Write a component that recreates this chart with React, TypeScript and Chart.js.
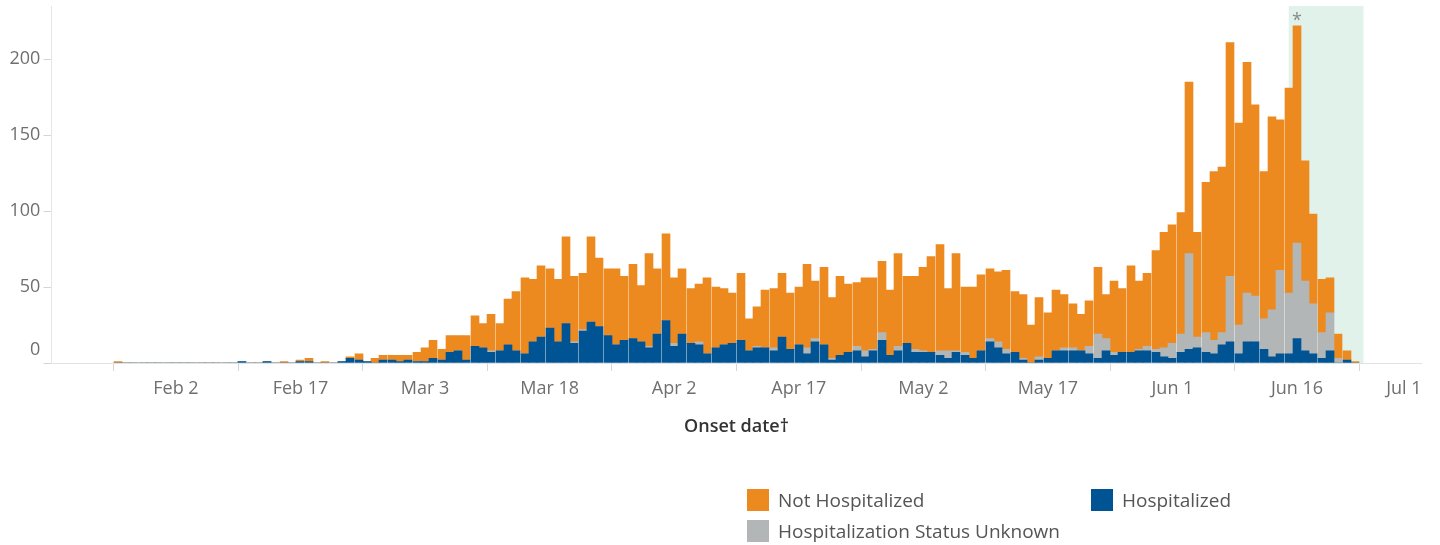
import React, { useEffect, useRef } from "react";
import { Chart, registerables } from "chart.js";

Chart.register(...registerables);

const MONTHS = ["Jan", "Feb", "Mar", "Apr", "May", "Jun", "Jul"];
const axisStart = [2020, 0, 18];
const axisEnd = [2020, 6, 1];
const firstDataDay = "Jan 26";

const tickLabels = ["Feb 2", "Feb 17", "Mar 3", "Mar 18", "Apr 2", "Apr 17", "May 2", "May 17", "Jun 1", "Jun 16", "Jul 1"];
const yTicks = [0, 50, 100, 150, 200];

// Daily counts from Jan 26 to Jun 23
const hospitalized = [
  0, 0, 0, 0, 0, 0,
  0, 0, 0, 0, 0, 0, 0, 0, 0, 1, 0, 0, 1, 0, 0, 0, 1, 1, 0, 0, 0, 1, 3, 2, 1, 0, 2, 2, 1,
  2, 1, 1, 3, 2, 7, 8, 2, 11, 10, 7, 8, 12, 8, 6, 14, 17, 23, 14, 26, 13, 21, 27, 24, 18, 12, 15, 16, 14, 10, 19,
  28, 11, 19, 13, 12, 6, 10, 12, 13, 15, 8, 10, 10, 8, 17, 9, 12, 6, 14, 12, 2, 5, 7, 8, 4, 8, 15, 5, 8, 13,
  7, 7, 7, 5, 3, 7, 5, 3, 8, 14, 10, 6, 7, 2, 0, 2, 3, 8, 8, 8, 8, 6, 3, 8, 5, 7, 7, 8, 8, 7, 4,
  3, 7, 9, 10, 7, 6, 12, 14, 6, 14, 14, 9, 4, 6, 6, 16, 8, 6, 3, 8, 0, 2, 0,
];

const unknownStatus = [
  0, 0, 0, 0, 0, 0,
  0, 0, 0, 0, 0, 0, 0, 0, 0, 0, 0, 0, 0, 0, 0, 0, 0, 0, 0, 0, 0, 0, 0, 0, 0, 0, 0, 0, 0,
  0, 0, 0, 0, 0, 0, 0, 0, 0, 0, 1, 0, 0, 0, 0, 0, 0, 0, 0, 0, 1, 1, 0, 0, 0, 0, 0, 0, 0, 1, 0,
  0, 2, 0, 0, 2, 0, 0, 0, 0, 0, 0, 1, 0, 2, 0, 0, 0, 4, 2, 0, 1, 0, 0, 3, 4, 1, 5, 0, 3, 0,
  2, 1, 0, 3, 5, 1, 2, 0, 0, 2, 4, 3, 0, 1, 0, 2, 0, 0, 2, 2, 0, 5, 16, 8, 2, 0, 0, 1, 3, 2, 6,
  10, 12, 63, 7, 13, 9, 8, 43, 19, 32, 30, 20, 31, 55, 40, 63, 46, 33, 17, 25, 3, 0, 0,
];

const notHospitalized = [
  1, 0, 0, 0, 0, 0,
  0, 0, 0, 0, 0, 0, 0, 0, 0, 0, 0, 0, 0, 0, 1, 0, 1, 2, 0, 1, 0, 0, 1, 4, 0, 3, 3, 3, 4,
  3, 6, 9, 12, 7, 11, 10, 16, 20, 16, 24, 18, 30, 39, 50, 41, 47, 39, 41, 57, 43, 37, 56, 45, 44, 50, 42, 49, 37, 61, 43,
  57, 43, 43, 36, 38, 50, 40, 37, 33, 44, 21, 26, 38, 39, 42, 37, 38, 55, 38, 51, 40, 52, 45, 42, 48, 47, 47, 43, 61, 44,
  48, 55, 63, 70, 41, 64, 43, 47, 50, 46, 46, 52, 40, 42, 25, 39, 30, 40, 35, 29, 24, 30, 44, 29, 47, 42, 57, 45, 48, 65, 76,
  78, 80, 113, 69, 99, 111, 109, 154, 133, 152, 126, 97, 127, 99, 135, 143, 79, 59, 35, 23, 16, 6, 1,
];

const seriesNames = ["Hospitalized", "Hospitalization Status Unknown", "Not Hospitalized"];
const seriesColors = ["#005494", "#B3B6B7", "#EC8A20"];

const shadedFrom = "Jun 15";
const shadedTo = "Jun 24";
const markedDay = "Jun 16";
const markText = "*";

const FONT = "'Open Sans', sans-serif";

function buildDayLabels(): string[] {
  const out: string[] = [];
  const start = Date.UTC(axisStart[0], axisStart[1], axisStart[2]);
  const end = Date.UTC(axisEnd[0], axisEnd[1], axisEnd[2]);
  for (let t = start; t <= end; t += 86400000) {
    const d = new Date(t);
    out.push(MONTHS[d.getUTCMonth()] + " " + d.getUTCDate());
  }
  return out;
}

export default function App() {
  const canvasRef = useRef<HTMLCanvasElement | null>(null);

  useEffect(() => {
    const canvas = canvasRef.current;
    if (!canvas) return;
    const dayLabels = buildDayLabels();
    const offset = dayLabels.indexOf(firstDataDay);
    const align = (arr: number[]) =>
      dayLabels.map((_, i) => {
        const k = i - offset;
        return k >= 0 && k < arr.length ? arr[k] : null;
      });
    const seriesValues = [hospitalized, unknownStatus, notHospitalized];
    const tickIdx = tickLabels.map((l) => dayLabels.indexOf(l));

    const bandPlugin = {
      id: "band",
      afterDatasetsUpdate(chart: any) {
        // snap bars to whole pixels, 8px wide (gives the occasional 1px seam)
        chart.data.datasets.forEach((_: any, di: number) => {
          chart.getDatasetMeta(di).data.forEach((el: any) => {
            const left = Math.round(el.x - 4.15);
            el.x = left + 4;
            el.width = 8;
          });
        });
      },
      beforeDatasetsDraw(chart: any) {
        const { ctx, chartArea, scales } = chart;
        const x0 = scales.x.getPixelForValue(dayLabels.indexOf(shadedFrom));
        const x1 = scales.x.getPixelForValue(dayLabels.indexOf(shadedTo));
        ctx.save();
        ctx.fillStyle = "#E1F2EA";
        ctx.fillRect(x0, chartArea.top, x1 - x0, chartArea.bottom - chartArea.top);
        ctx.restore();
      },
      afterDatasetsDraw(chart: any) {
        const { ctx, scales } = chart;
        const i = dayLabels.indexOf(markedDay);
        const k = i - offset;
        const total = seriesValues.reduce((s, a) => s + (a[k] || 0), 0);
        const x = scales.x.getPixelForValue(i);
        const y = scales.y.getPixelForValue(total);
        ctx.save();
        ctx.fillStyle = "#8a8a8a";
        ctx.font = `18px ${FONT}`;
        ctx.textAlign = "center";
        ctx.textBaseline = "alphabetic";
        ctx.fillText(markText, x, y + 0.5);
        ctx.restore();
      },
    };

    const chart = new Chart(canvas, {
      type: "bar",
      data: {
        labels: dayLabels,
        datasets: seriesValues.map((arr, i) => ({
          label: seriesNames[i],
          data: align(arr),
          backgroundColor: seriesColors[i],
          borderWidth: 0,
          barPercentage: 1,
          categoryPercentage: 1,
        })),
      },
      options: {
        animation: false,
        responsive: false,
        maintainAspectRatio: false,
        layout: { padding: { top: 6, right: 18.4, left: 0, bottom: 0 } },
        plugins: { legend: { display: false }, tooltip: { enabled: false } },
        scales: {
          x: {
            type: "category",
            stacked: true,
            offset: false,
            grid: {
              drawOnChartArea: false,
              drawTicks: true,
              tickLength: 8,
              tickWidth: 1,
              tickColor: (ctx: any) => (ctx.index === 0 ? "rgba(0,0,0,0)" : "#d6d6d6"),
            },
            border: { display: true, color: "#e2e2e2", width: 1 },
            ticks: {
              autoSkip: false,
              maxRotation: 0,
              minRotation: 0,
              align: "inner",
              padding: 7,
              color: "#6f6f6f",
              font: { family: FONT, size: 18 },
              callback: (v: any) => (tickLabels.includes(dayLabels[v]) ? dayLabels[v] : ""),
            },
            afterBuildTicks: (scale: any) => {
              scale.ticks = [0, ...tickIdx].map((v) => ({ value: v }));
            },
            afterFit: (scale: any) => {
              scale.height = 182;
              scale.paddingLeft = 0;
              scale.paddingRight = 0;
            },
            title: {
              display: true,
              text: "Onset date†",
              color: "#333333",
              font: { family: FONT, size: 18, weight: "600" },
              padding: { top: 0, bottom: 107 },
            },
          },
          y: {
            stacked: true,
            min: 0,
            max: 235,
            afterBuildTicks: (scale: any) => {
              scale.ticks = yTicks.map((v) => ({ value: v }));
            },
            afterFit: (scale: any) => {
              scale.width = 51.4;
              scale.paddingTop = 0;
              scale.paddingBottom = 0;
            },
            grid: { drawOnChartArea: false, drawTicks: true, tickLength: 8, tickColor: "#d6d6d6" },
            border: { display: true, color: "#e6e6e6", width: 1 },
            ticks: {
              padding: 3,
              color: "#6f6f6f",
              font: { family: FONT, size: 18, lineHeight: 1.45 },
              callback: (v: any) => (v === 0 ? ["0", ""] : String(v)),
            },
          },
        },
      } as any,
      plugins: [bandPlugin],
    });
    return () => chart.destroy();
  }, []);

  const legendItems = [
    { name: seriesNames[2], color: seriesColors[2] },
    { name: seriesNames[0], color: seriesColors[0] },
    { name: seriesNames[1], color: seriesColors[1] },
  ];

  return (
    <div style={{ position: "absolute", left: 0, top: 0, width: 1440, height: 545, background: "#fff" }}>
      <canvas ref={canvasRef} width={1440} height={545} style={{ display: "block" }} />
      <div
        style={{
          position: "absolute",
          left: 747,
          top: 489,
          display: "grid",
          gridTemplateColumns: "344px auto",
          gridAutoRows: "31px",
          fontFamily: FONT,
          fontSize: 19,
          color: "#555",
        }}
      >
        {legendItems.map((it) => (
          <div key={it.name} style={{ display: "flex", alignItems: "center", height: 22, whiteSpace: "nowrap" }}>
            <span style={{ width: 22, height: 22, background: it.color, marginRight: 9, flex: "none" }} />
            <span>{it.name}</span>
          </div>
        ))}
      </div>
    </div>
  );
}
